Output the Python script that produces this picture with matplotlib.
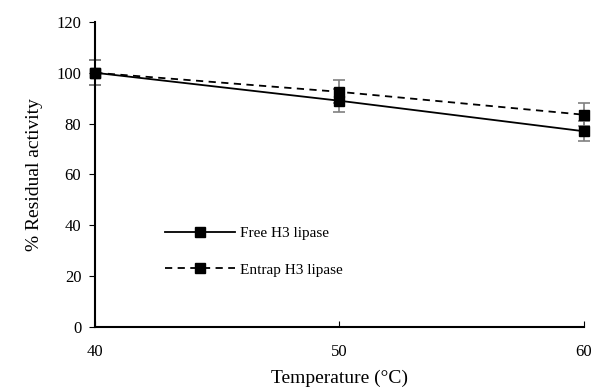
import matplotlib.pyplot as plt
from matplotlib.lines import Line2D

temps = [40, 50, 60]
free_act = [100, 89, 77]
free_err = [5, 4.5, 4]
entrap_act = [100, 92.5, 83.5]
entrap_err = [5, 4.5, 4.5]

plt.rcParams['font.family'] = 'Liberation Serif'
plt.rcParams['font.size'] = 11

fig = plt.figure(figsize=(5.95, 3.92), dpi=100)
ax = fig.add_axes([0.16, 0.166, 0.821, 0.778])

dash = (0, (4, 3))
for y, err, ls in [(free_act, free_err, '-'), (entrap_act, entrap_err, dash)]:
    eb = ax.errorbar(temps, y, yerr=err, color='black', ecolor='#808080',
                     elinewidth=1.2, capsize=4, capthick=1.2, marker='s',
                     markersize=7, linestyle=ls, linewidth=1.3)
    eb.lines[0].set_clip_on(False)
    for art in eb.lines[1] + eb.lines[2]:
        art.set_clip_on(False)

ax.set_xlim(40, 60)
ax.set_ylim(0, 120)
ax.set_xticks([40, 50, 60])
ax.set_yticks(range(0, 121, 20))
ax.spines['top'].set_visible(False)
ax.spines['right'].set_visible(False)
ax.spines['left'].set_linewidth(1.5)
ax.spines['bottom'].set_linewidth(1.5)
ax.tick_params(axis='x', direction='in', length=4, pad=12, labelsize=12)
ax.tick_params(axis='y', direction='out', length=4, pad=6, labelsize=12)

ax.set_xlabel('Temperature (°C)', fontsize=14, labelpad=7)
ax.set_ylabel('% Residual activity', fontsize=14, labelpad=10)

handles = [Line2D([], [], color='black', marker='s', markersize=7, linewidth=1.3, linestyle='-'),
           Line2D([], [], color='black', marker='s', markersize=7, linewidth=1.3, linestyle=dash)]
ax.legend(handles, ['Free H3 lipase', 'Entrap H3 lipase'], loc='upper left',
          bbox_to_anchor=(0.115, 0.375), frameon=False,
          handlelength=4.6, labelspacing=1.5, handletextpad=0.3)

fig.savefig('out.png', dpi=100)
